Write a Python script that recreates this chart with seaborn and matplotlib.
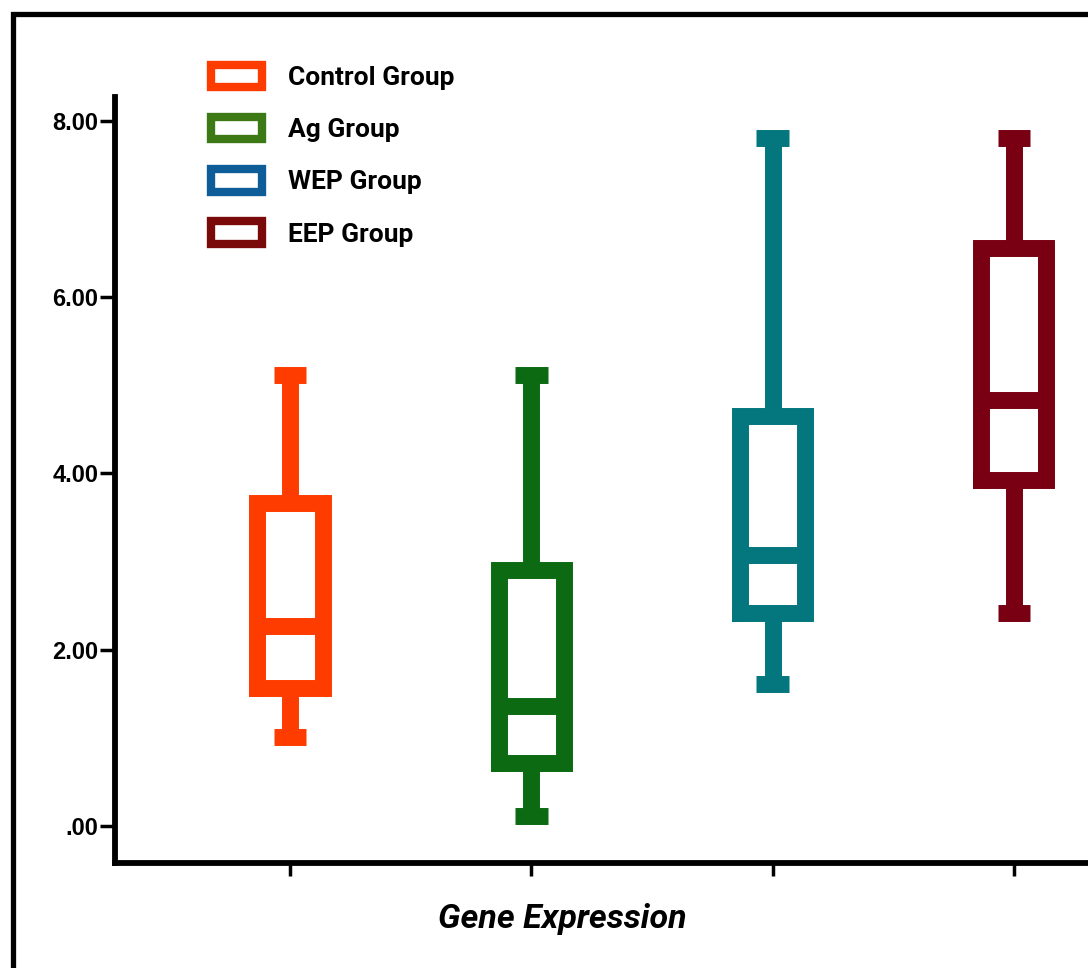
import matplotlib
matplotlib.use("Agg")
import matplotlib.pyplot as plt
from matplotlib.patches import Patch
from matplotlib.lines import Line2D
import seaborn as sns
import pandas as pd

# ---- data (five-number summaries) ----
groups = ["Control Group", "Ag Group", "WEP Group", "EEP Group"]
whisker_low = [1.01, 0.11, 1.61, 2.42]
q1 = [1.56, 0.71, 2.42, 3.92]
median = [2.27, 1.36, 3.07, 4.83]
q3 = [3.66, 2.90, 4.65, 6.56]
whisker_high = [5.12, 5.12, 7.81, 7.81]

box_colors = ["#FF3C00", "#0B6A12", "#03767E", "#780012"]
legend_colors = ["#FF3C00", "#3D7A16", "#0E5D99", "#7A0A0A"]
yticks = [0, 2, 4, 6, 8]
ytick_labels = [".00", "2.00", "4.00", "6.00", "8.00"]
xlabel = "Gene Expression"

rows = []
for g, lo, a, m, b, hi in zip(groups, whisker_low, q1, median, q3, whisker_high):
    for v in (lo, a, m, b, hi):
        rows.append({"group": g, "value": v})
df = pd.DataFrame(rows)

sns.set_style("ticks")
plt.rcParams.update({
    "lines.solid_capstyle": "butt",
    "lines.solid_joinstyle": "miter",
    "text.color": "black",
    "axes.labelcolor": "black",
    "xtick.color": "black",
    "ytick.color": "black",
    "xtick.labelcolor": "black",
    "ytick.labelcolor": "black",
})

fig = plt.figure(figsize=(10.88, 9.68), dpi=100)
ax = fig.add_axes([115 / 1088, 1 - 863 / 968, 1 - 115 / 1088, (863 - 97) / 968])

lw = 12.2
sns.boxplot(
    data=df, x="group", y="value", hue="group", order=groups, hue_order=groups,
    palette=box_colors, fill=False, width=0.27, linewidth=lw, whis=(0, 100),
    legend=False, ax=ax,
    boxprops=dict(solid_capstyle="projecting", solid_joinstyle="miter"),
    whiskerprops=dict(solid_capstyle="butt"),
    capprops=dict(solid_capstyle="butt"),
    medianprops=dict(solid_capstyle="butt"),
)

ax.set_xlim(-0.725, 3.307)
ax.set_ylim(-0.42, 8.27)
ax.set_yticks(yticks)
ax.set_yticklabels(ytick_labels, fontfamily="Liberation Sans", fontweight="bold",
                   fontsize=17, color="black")
ax.set_xticks(range(len(groups)))
ax.set_xticklabels([])
ax.tick_params(axis="y", length=11, width=2.5, color="black", pad=1)
ax.tick_params(axis="x", length=9, width=2.5, color="black")
for s in ("top", "right"):
    ax.spines[s].set_visible(False)
for s in ("left", "bottom"):
    ax.spines[s].set_linewidth(4.2)
    ax.spines[s].set_color("black")
ax.set_ylabel("")
ax.set_xlabel(xlabel, fontfamily="Roboto", fontweight="bold", fontstyle="italic",
              fontsize=24.5, color="black")
ax.xaxis.set_label_coords((562 - 115) / 972, -0.052)
ax.xaxis.label.set_va("top")

handles = [Patch(facecolor="white", edgecolor=c, linewidth=6, joinstyle="round", label=g)
           for g, c in zip(groups, legend_colors)]
ax.legend(handles=handles, loc="upper left", bbox_to_anchor=(211 / 1088, 1 - 65 / 968),
          bbox_transform=fig.transFigure, frameon=False,
          prop=dict(family="Roboto", weight="bold", size=19),
          handlelength=1.95, handleheight=0.92, labelspacing=1.02, handletextpad=0.95,
          borderpad=0, borderaxespad=0)

# outer black frame of the figure
fig.add_artist(Line2D([12.5 / 1088, 12.5 / 1088, 1.01], [-0.01, 1 - 14 / 968, 1 - 14 / 968],
                      transform=fig.transFigure, color="black", linewidth=3.8,
                      solid_joinstyle="miter"))

fig.savefig("out.png", dpi=100)
